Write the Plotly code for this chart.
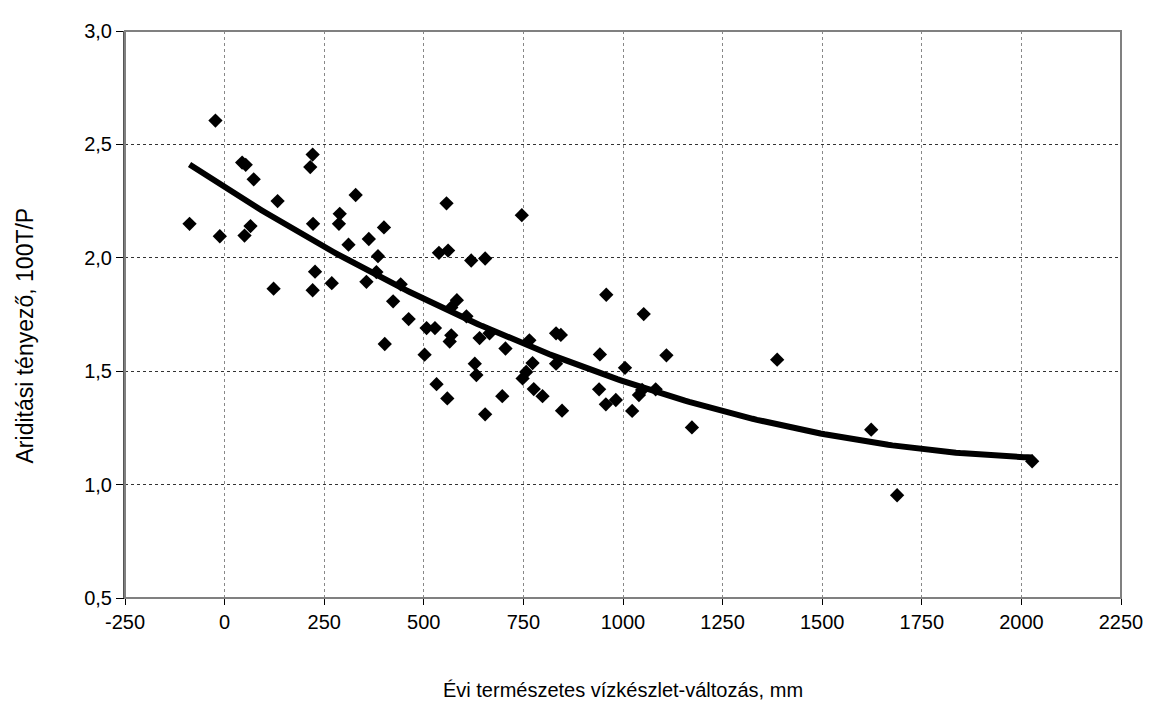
import numpy as np
import plotly.graph_objects as go

# Scatter data
x_vals = [-88, -23, -12, 44, 53, 73, 50, 65, 133, 123, 221, 215, 222, 227, 221, 269,
          329, 289, 287, 311, 362, 400, 385, 381, 356, 423, 442, 462, 402, 502, 507,
          528, 557, 746, 538, 561, 619, 654, 532, 559, 569, 565, 583, 569, 607, 640,
          628, 632, 665, 705, 697, 654, 765, 773, 757, 748, 776, 798, 832, 844, 832,
          847, 942, 958, 1005, 1052, 1109, 940, 957, 982, 1023, 1048, 1040, 1082,
          1173, 1387, 1623, 1688, 2027]
y_vals = [2.15, 2.605, 2.095, 2.42, 2.41, 2.346, 2.098, 2.14, 2.25, 1.864, 2.455, 2.40,
          2.15, 1.939, 1.857, 1.888, 2.277, 2.194, 2.15, 2.058, 2.083, 2.134, 2.007,
          1.937, 1.894, 1.808, 1.883, 1.73, 1.62, 1.573, 1.69, 1.69, 2.24, 2.188, 2.022,
          2.032, 1.988, 1.997, 1.443, 1.38, 1.658, 1.631, 1.813, 1.781, 1.742, 1.646,
          1.533, 1.483, 1.667, 1.60, 1.39, 1.31, 1.636, 1.536, 1.497, 1.468, 1.421,
          1.39, 1.667, 1.66, 1.533, 1.326, 1.574, 1.837, 1.515, 1.752, 1.57, 1.42,
          1.354, 1.373, 1.325, 1.417, 1.395, 1.42, 1.252, 1.551, 1.242, 0.953, 1.103]

x_ticks = [-250, 0, 250, 500, 750, 1000, 1250, 1500, 1750, 2000, 2250]
x_ticktext = ["-250", "0", "250", "500", "750", "1000", "1250", "1500", "1750", "2000", "2250"]
y_ticks = [0.5, 1.0, 1.5, 2.0, 2.5, 3.0]
y_ticktext = ["0,5", "1,0", "1,5", "2,0", "2,5", "3,0"]

x_title = "Évi természetes vízkészlet-változás, mm"
y_title = "Ariditási tényező, 100T/P"

# Second-order polynomial trendline fitted to the data
coef = np.polyfit(x_vals, y_vals, 2)
xt = np.linspace(min(x_vals), max(x_vals), 200)
yt = np.polyval(coef, xt)

fig = go.Figure()
fig.add_trace(go.Scatter(x=xt, y=yt, mode="lines",
                         line=dict(color="black", width=6), hoverinfo="skip"))
fig.add_trace(go.Scatter(x=x_vals, y=y_vals, mode="markers",
                         marker=dict(symbol="diamond", color="black", size=11)))

font = "Liberation Sans, Arial, sans-serif"
fig.update_layout(
    width=1153, height=713,
    margin=dict(l=117, r=40, t=13, b=123),
    paper_bgcolor="white", plot_bgcolor="white",
    showlegend=False,
    font=dict(family=font, size=20, color="black"),
    xaxis=dict(range=[-250, 2250], tickvals=x_ticks, ticktext=x_ticktext,
               ticks="outside", ticklen=6,
               tickcolor="black", showline=True, linecolor="black", linewidth=1,
               showgrid=True, gridcolor="#888888", griddash="dot", gridwidth=1,
               zeroline=False, tickfont=dict(size=20),
               title=dict(text=x_title, font=dict(size=20), standoff=50)),
    yaxis=dict(range=[0.5, 3.0], tickvals=y_ticks, ticktext=y_ticktext,
               ticks="outside", ticklen=7, tickcolor="black",
               showline=True, linecolor="#555555", linewidth=2,
               showgrid=True, gridcolor="#333333", griddash="dot", gridwidth=1,
               zeroline=False, tickfont=dict(size=20)),
    annotations=[dict(text=y_title, textangle=-90, xref="paper", yref="paper",
                      x=-100 / 996, y=0.463, xanchor="center", yanchor="middle",
                      showarrow=False, font=dict(size=23))],
    shapes=[dict(type="rect", xref="paper", yref="paper", x0=0, y0=0, x1=1, y1=1,
                 line=dict(color="#808080", width=2), layer="above")],
)

fig.write_html("out.html")
